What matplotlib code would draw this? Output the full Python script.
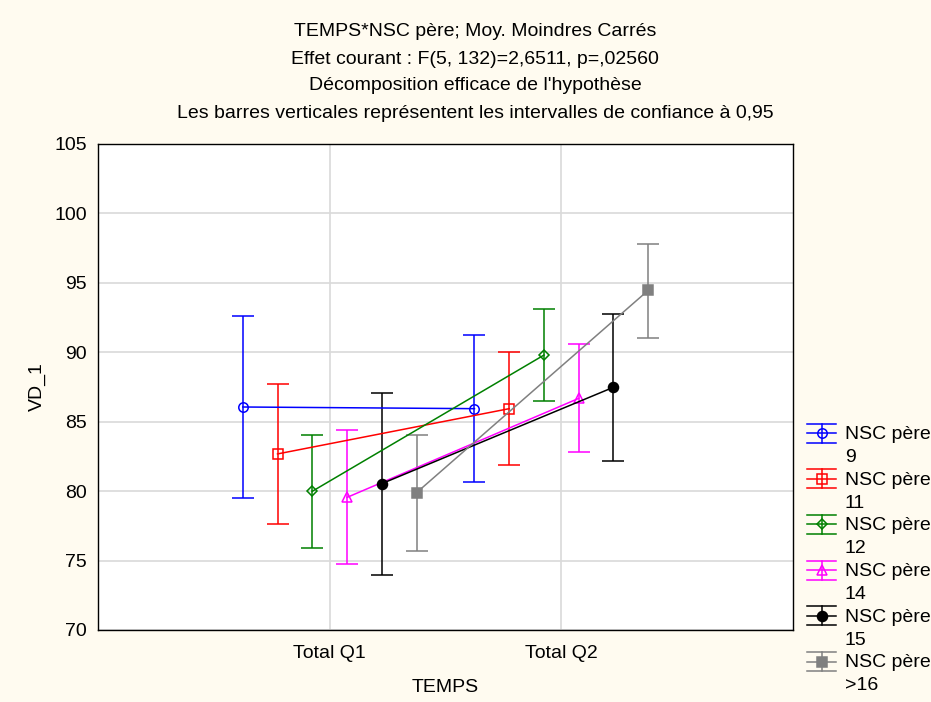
import matplotlib
matplotlib.use("Agg")
import matplotlib.pyplot as plt
from matplotlib.legend_handler import HandlerBase
from matplotlib.lines import Line2D
import numpy as np

categories = ["Total Q1", "Total Q2"]
series = ["NSC père\n9", "NSC père\n11", "NSC père\n12", "NSC père\n14", "NSC père\n15", "NSC père\n>16"]
means = [
    [86.06, 85.94],
    [82.68, 85.94],
    [79.99, 89.80],
    [79.55, 86.68],
    [80.54, 87.48],
    [79.89, 94.46],
]
upper = [
    [92.60, 91.25],
    [87.72, 90.04],
    [84.04, 93.09],
    [84.43, 90.60],
    [87.09, 92.78],
    [84.04, 97.82],
]
lower = [
    [79.50, 80.66],
    [77.63, 81.88],
    [75.93, 86.52],
    [74.75, 82.82],
    [73.96, 82.17],
    [75.71, 91.05],
]

colors = ["#0000FF", "#FF0000", "#008000", "#FF00FF", "#000000", "#808080"]
markers = ["o", "s", "D", "^", "o", "s"]
filled = [False, False, False, False, True, True]
msizes = [6.8, 6.5, 5.2, 6.8, 7.2, 6.8]
offsets = [-0.375, -0.225, -0.075, 0.075, 0.225, 0.375]

plt.rcParams['font.family'] = ['Liberation Sans', 'DejaVu Sans']
FS = 14


class ErrHandler(HandlerBase):
    def __init__(self, dy=9.0, hh=6.8, **kw):
        super().__init__(**kw)
        self.dy = dy
        self.hh = hh

    def create_artists(self, legend, orig_handle, xdescent, ydescent,
                       width, height, fontsize, trans):
        ln = orig_handle.lines[0]
        c = ln.get_color()
        x0, x1 = -xdescent, width - xdescent
        cx = (x0 + x1) / 2
        cy = height / 2 - ydescent + self.dy
        hh = self.hh
        arts = [
            Line2D([x0, x1], [cy, cy], color=c, lw=1.1),
            Line2D([x0, x1], [cy + hh, cy + hh], color=c, lw=1.1),
            Line2D([x0, x1], [cy - hh, cy - hh], color=c, lw=1.1),
            Line2D([cx, cx], [cy - hh, cy + hh], color=c, lw=1.1),
            Line2D([cx], [cy], marker=ln.get_marker(), markersize=ln.get_markersize(),
                   markerfacecolor=ln.get_markerfacecolor(),
                   markeredgecolor=ln.get_markeredgecolor(),
                   markeredgewidth=ln.get_markeredgewidth(), linestyle="none"),
        ]
        for a in arts:
            a.set_transform(trans)
        return arts


fig = plt.figure(figsize=(9.31, 7.02), dpi=100)
fig.patch.set_facecolor("#FFFBF0")
ax = fig.add_axes([98/931, 1 - 630/702, (793 - 98)/931, (630 - 144)/702])
ax.set_facecolor("white")

x = np.arange(len(categories))
handles = []
for i in range(len(series)):
    xs = x + offsets[i]
    m = np.array(means[i])
    up = np.array(upper[i]) - m
    lo = m - np.array(lower[i])
    h = ax.errorbar(xs, m, yerr=[lo, up], color=colors[i], ecolor=colors[i],
                    marker=markers[i], markersize=msizes[i],
                    markerfacecolor=colors[i] if filled[i] else "none",
                    markeredgecolor=colors[i], markeredgewidth=1.1,
                    linewidth=1.1, elinewidth=1.1, capsize=8, capthick=1.1,
                    label=series[i], zorder=3)
    handles.append(h)

ax.set_xlim(-1, 2)
ax.set_ylim(70, 105)
ax.set_xticks(x)
ax.set_xticklabels(categories)
ax.set_yticks(np.arange(70, 106, 5))
ax.grid(True, color="#D9D9D9", linewidth=1.2, zorder=0)
ax.set_axisbelow(True)
ax.tick_params(axis="x", labelsize=FS, length=0, pad=11)
ax.tick_params(axis="y", labelsize=FS, length=0, pad=8)
for s in ax.spines.values():
    s.set_color("black")
    s.set_linewidth(1)

ax.set_xlabel("TEMPS", fontsize=FS, labelpad=12)
ax.set_ylabel("VD_1", fontsize=FS, labelpad=6)

titles = ["TEMPS*NSC père; Moy. Moindres Carrés",
          "Effet courant : F(5, 132)=2,6511, p=,02560",
          "Décomposition efficace de l'hypothèse",
          "Les barres verticales représentent les intervalles de confiance à 0,95"]
ys = [31, 59, 85, 113]
for t, yy in zip(titles, ys):
    fig.text(475/931, 1 - yy/702, t, ha="center", va="center", fontsize=FS)

leg = fig.legend(handles=handles, labels=series, loc="upper left",
                 bbox_to_anchor=(807/931, 1 - 426/702), frameon=False,
                 fontsize=FS, handlelength=1.5, handletextpad=0.45,
                 labelspacing=0.3, borderpad=0, borderaxespad=0,
                 handler_map={type(handles[0]): ErrHandler()})
for t in leg.get_texts():
    t.set_linespacing(1.45)

fig.savefig("out.png", dpi=100, facecolor=fig.get_facecolor())
